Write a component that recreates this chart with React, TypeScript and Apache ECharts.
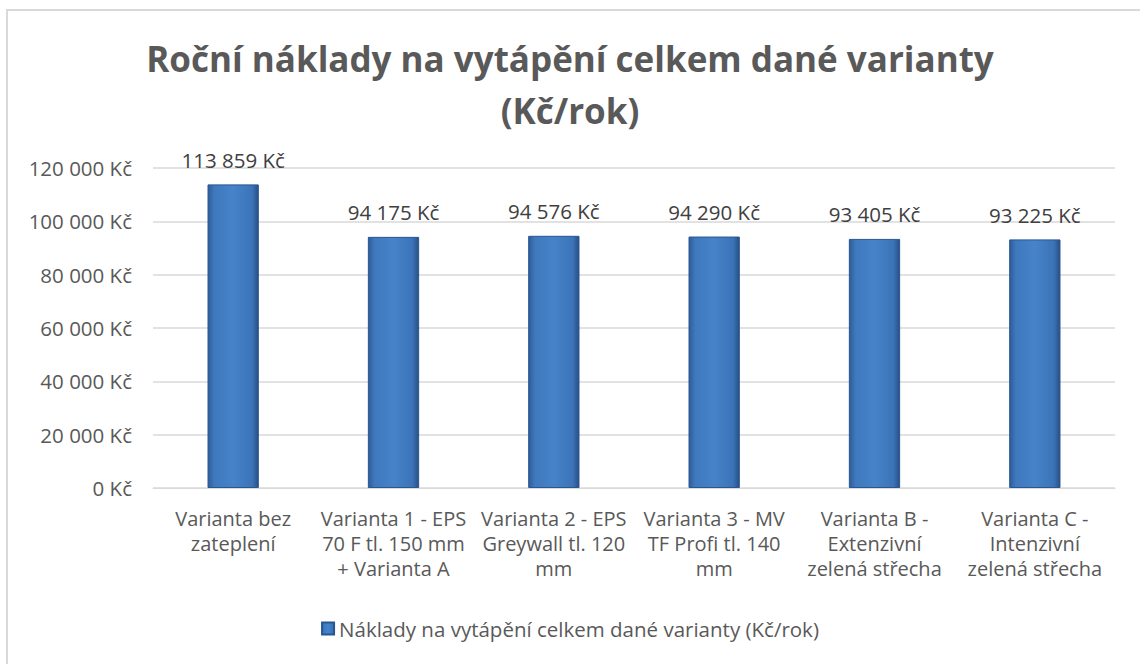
import React, { useEffect, useRef } from "react";
import * as echarts from "echarts";

const categories = [
  "Varianta bez\nzateplení",
  "Varianta 1 - EPS\n70 F tl. 150 mm\n+ Varianta A",
  "Varianta 2 - EPS\nGreywall tl. 120\nmm",
  "Varianta 3 - MV\nTF Profi tl. 140\nmm",
  "Varianta B -\nExtenzivní\nzelená střecha",
  "Varianta C -\nIntenzivní\nzelená střecha",
];
const values = [113859, 94175, 94576, 94290, 93405, 93225];
const seriesName = "Náklady na vytápění celkem dané varianty (Kč/rok)";
const titleText = "Roční náklady na vytápění celkem dané varianty\n(Kč/rok)";

const fmt = (v: number) =>
  String(Math.round(v)).replace(/\B(?=(\d{3})+(?!\d))/g, " ") + " Kč";

const FONT = "'Open Sans', Lato, sans-serif";

export default function App() {
  const ref = useRef<HTMLDivElement>(null);
  useEffect(() => {
    const chart = echarts.init(ref.current!, null, { renderer: "svg" });
    const barColor = new echarts.graphic.LinearGradient(0, 0, 1, 0, [
      { offset: 0, color: "#2d5c98" },
      { offset: 0.12, color: "#3f78bd" },
      { offset: 0.5, color: "#4683c9" },
      { offset: 0.88, color: "#3b73b7" },
      { offset: 1, color: "#284f85" },
    ]);
    chart.setOption({
      animation: false,
      backgroundColor: "#ffffff",
      graphic: [
        {
          type: "rect",
          shape: { x: 7, y: 10, width: 1200, height: 700 },
          style: { fill: "none", stroke: "#d9d9d9", lineWidth: 2 },
          silent: true,
        },
      ],
      title: {
        text: titleText,
        left: "center",
        top: 27,
        textStyle: {
          fontFamily: FONT,
          fontSize: 35,
          fontWeight: "bold",
          color: "#595959",
          lineHeight: 52,
        },
      },
      legend: {
        bottom: 20,
        left: "center",
        itemWidth: 12,
        itemHeight: 12,
        icon: "rect",
        itemGap: 6,
        textStyle: { fontFamily: FONT, fontSize: 20.5, color: "#595959" },
        data: [seriesName],
      },
      grid: { left: 153, right: 25, top: 168, bottom: 176, containLabel: false },
      xAxis: {
        type: "category",
        data: categories,
        axisTick: { show: false },
        axisLine: { lineStyle: { color: "#d9d9d9", width: 1 } },
        axisLabel: {
          fontFamily: FONT,
          fontSize: 20,
          color: "#595959",
          lineHeight: 25,
          margin: 18,
          interval: 0,
        },
      },
      yAxis: {
        type: "value",
        min: 0,
        max: 120000,
        interval: 20000,
        axisLine: { show: false },
        axisTick: { show: false },
        splitLine: { lineStyle: { color: "#d9d9d9", width: 1.5 } },
        axisLabel: {
          fontFamily: FONT,
          fontSize: 20.5,
          color: "#595959",
          margin: 21,
          formatter: (v: number) => fmt(v),
        },
      },
      series: [
        {
          type: "bar",
          name: seriesName,
          data: values,
          barWidth: "32%",
          itemStyle: {
            color: barColor,
            borderColor: "#2a5690",
            borderWidth: 1,
          },
          label: {
            show: true,
            position: "top",
            distance: 14,
            fontFamily: FONT,
            fontSize: 20.5,
            color: "#404040",
            formatter: (p: any) => fmt(p.value),
          },
        },
      ],
    });
    return () => chart.dispose();
  }, []);
  return (
    <div
      ref={ref}
      style={{ position: "absolute", left: 0, top: 0, width: 1140, height: 664 }}
    />
  );
}
